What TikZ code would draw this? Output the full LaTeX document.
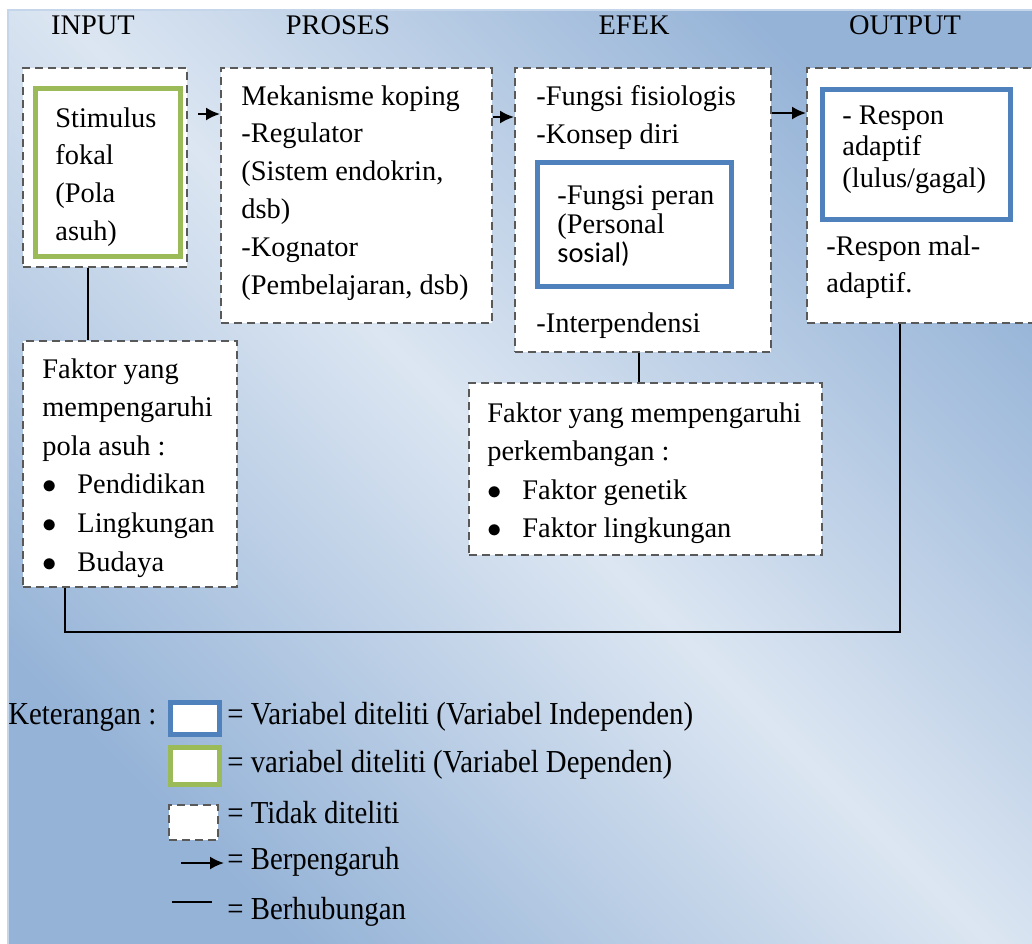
\documentclass[tikz,border=0pt]{standalone}
\usepackage{fontspec}
\setmainfont{Liberation Serif}
\setsansfont{Carlito}
\newfontfamily\serifbody{Liberation Serif}
\usepackage{xcolor}
\usepackage{graphicx}
\usepackage{tikz}
\usetikzlibrary{arrows.meta,fit}
\definecolor{bgdark}{HTML}{95B3D7}
\definecolor{bglight}{HTML}{DCE6F2}
\definecolor{bgedge}{HTML}{C6D6EA}
\definecolor{dashgray}{HTML}{595959}
\definecolor{depgreen}{HTML}{9BBB59}
\definecolor{indblue}{HTML}{4F81BD}
\newcommand{\bul}{\makebox[17.5pt][l]{$\bullet$}}
\newcommand{\legscale}[1]{\scalebox{0.9}[1]{#1}}

\begin{document}
\begin{tikzpicture}[x=0.5pt,y=-0.5pt,
    txt/.style={anchor=north west, inner sep=0pt, align=left, font=\serifbody\fontsize{14.2}{18.9}\selectfont},
    head/.style={inner sep=0pt, font=\serifbody\fontsize{14.2}{17}\selectfont},
    leg/.style={anchor=west, inner sep=0pt, font=\serifbody\fontsize{16}{18}\selectfont},
    dashbox/.style={draw=dashgray, line width=1pt, dash pattern=on 4pt off 2.5pt, fill=white, inner sep=0pt},
    depbox/.style={draw=depgreen, line width=2.5pt, fill=white, inner sep=0pt},
    indbox/.style={draw=indblue, line width=2.5pt, fill=white, inner sep=0pt},
    link/.style={line width=1pt, black},
    arrow/.style={-{Latex[length=7pt,width=6.5pt]}, line width=1pt, black}]
    \useasboundingbox (0,0) rectangle (1032,943);

    % Latar
    \shade[top color=bgdark, bottom color=bgdark, middle color=bglight, shading angle=-45] (8,10) rectangle (1045,950);
    \draw[bgedge, line width=1pt] (1045,10) -- (8,10) -- (8,950);

    % Judul kolom
    \node[head] (hinput) at (93,25) {INPUT};
    \node[head] (hproses) at (338,25) {PROSES};
    \node[head] (hefek) at (634,25) {EFEK};
    \node[head] (houtput) at (905,25) {OUTPUT};

    % Kotak tidak diteliti
    \node[dashbox, fit={(23,68) (187,267)}] (inbox) {};
    \node[dashbox, fit={(221,68) (492,323)}] (prosesbox) {};
    \node[dashbox, fit={(515,68) (771,352)}] (efekbox) {};
    \node[dashbox, fit={(807,68) (1045,323)}] (outbox) {};
    \node[dashbox, fit={(23,341) (237,587)}] (polabox) {};
    \node[dashbox, fit={(469,383) (822,555)}] (kembangbox) {};

    % Kotak diteliti
    \node[depbox, fit={(35.5,88.5) (180.5,256.5)}] (stimbox) {};
    \node[indbox, fit={(537.5,162.5) (731.5,286.5)}] (peranbox) {};
    \node[indbox, fit={(822.5,89.5) (1010.5,219.5)}] (responbox) {};

    % Isi kotak
    \node[txt] (stimtxt) at (55,107) {Stimulus\\fokal\\(Pola\\asuh)};
    \node[txt] (prosestxt) at (241,85) {Mekanisme koping\\-Regulator\\(Sistem endokrin,\\dsb)\\-Kognator\\(Pembelajaran, dsb)};
    \node[txt] (efektxt) at (536,85) {-Fungsi fisiologis\\-Konsep diri};
    \node[txt] (interptxt) at (536,312) {-Interpendensi};
    \node[txt, font=\serifbody\fontsize{14.2}{14.5}\selectfont] (perantxt) at (557,185) {-Fungsi peran\\(Personal\\{\sffamily sosial)}};
    \node[txt, font=\serifbody\fontsize{14.2}{15.75}\selectfont] (respontxt) at (842,105) {- Respon\\adaptif\\(lulus/gagal)};
    \node[txt] (maltxt) at (826,235) {-Respon mal-\\adaptif.};
    \node[txt, font=\serifbody\fontsize{14.2}{19.3}\selectfont] (polatxt) at (42,358) {Faktor yang\\mempengaruhi\\pola asuh :\\\bul Pendidikan\\\bul Lingkungan\\\bul Budaya};
    \node[txt, font=\serifbody\fontsize{14.2}{19.3}\selectfont] (kembangtxt) at (487,402) {Faktor yang mempengaruhi\\perkembangan :\\\bul Faktor genetik\\\bul Faktor lingkungan};

    % Panah berpengaruh
    \coordinate (row1) at (0,114);
    \coordinate (row2) at (0,117);
    \coordinate (row3) at (0,113);
    \draw[arrow, shorten <=5pt] (inbox.east |- row1) -- (prosesbox.west |- row1);
    \draw[arrow] (prosesbox.east |- row2) -- (efekbox.west |- row2);
    \draw[arrow] (efekbox.east |- row3) -- (outbox.west |- row3);

    % Garis berhubungan
    \coordinate (inlink) at ([xshift=-8.5pt]inbox.south);
    \draw[link] (inlink) -- (inlink |- polabox.north);
    \coordinate (efeklink) at ([xshift=-2pt]efekbox.south);
    \draw[link] (efeklink) -- (efeklink |- kembangbox.north);
    \coordinate (fbstart) at ([xshift=-32.5pt]polabox.south);
    \coordinate (fbend) at ([xshift=-13pt]outbox.south);
    \coordinate (fbrow) at (0,632);
    \draw[link] (fbstart) -- (fbstart |- fbrow) -| (fbend);

    % Keterangan
    \node[leg] (ket) at (8,717) {\legscale{Keterangan :}};
    \node[indbox, fit={(170.5,702.5) (219.5,734.5)}] (legind) {};
    \node[depbox, fit={(170.5,747.5) (219.5,784.5)}] (legdep) {};
    \node[dashbox, fit={(169,805) (218,840)}] (legnot) {};
    \node[leg] (legindtxt) at (227,717) {\legscale{= Variabel diteliti (Variabel Independen)}};
    \node[leg] (legdeptxt) at (227,765) {\legscale{= variabel diteliti (Variabel Dependen)}};
    \node[leg] (legnottxt) at (227,813) {\legscale{= Tidak diteliti}};
    \node[leg] (legarrtxt) at (227,862) {\legscale{= Berpengaruh}};
    \node[leg] (leglinetxt) at (227,912) {\legscale{= Berhubungan}};
    \coordinate (legarr) at (181,863);
    \draw[arrow] (legarr) -- ([xshift=-1.5pt]legarrtxt.west |- legarr);
    \coordinate (legline) at (172,902);
    \coordinate (legline2) at (212,902);
    \draw[link] (legline) -- (legline2);

\end{tikzpicture}
\end{document}
